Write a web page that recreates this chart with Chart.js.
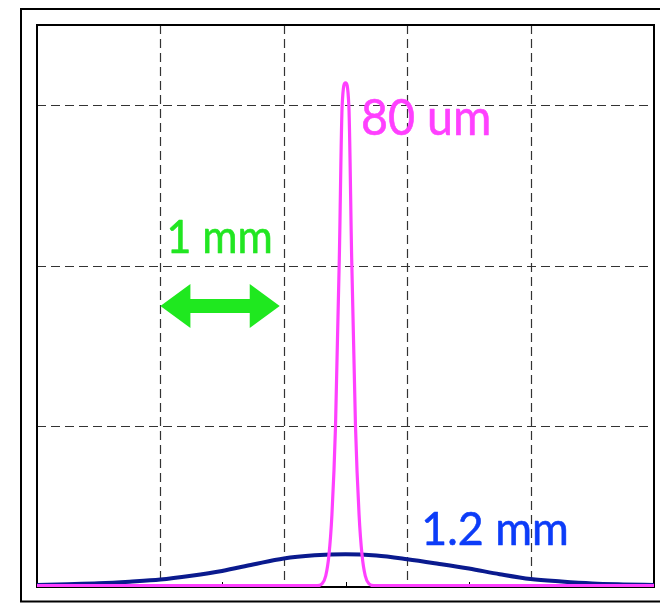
<!DOCTYPE html>
<html>
<head>
<meta charset="utf-8">
<script src="https://cdn.jsdelivr.net/npm/chart.js@4"></script>
<style>
html,body{margin:0;padding:0;background:#fff;}
canvas{display:block;}
</style>
</head>
<body>
<canvas id="c" width="660" height="603"></canvas>
<script>
// ---- data (mm on x, arbitrary intensity on y) ----
const blueX = [0, 0.25, 0.5, 0.75, 1.0, 1.25, 1.5, 1.75, 2.0, 2.25, 2.5, 2.75, 3.0, 3.25, 3.5, 3.75, 4.0, 4.25, 4.5, 4.75, 5.0];
const blueY = [0.012, 0.017, 0.023, 0.033, 0.046, 0.07, 0.10, 0.14, 0.178, 0.197, 0.204, 0.196, 0.173, 0.145, 0.115, 0.08, 0.05, 0.034, 0.022, 0.016, 0.012];
const pinkX = [0, 2.27, 2.31, 2.34, 2.366, 2.39, 2.419, 2.45, 2.473, 2.5, 2.527, 2.55, 2.581, 2.61, 2.634, 2.66, 2.69, 2.73, 5];
const pinkY = [0.008, 0.008, 0.02, 0.07, 0.2, 0.45, 1.0, 2.05, 3.0, 3.14, 3.0, 2.05, 1.0, 0.45, 0.2, 0.07, 0.02, 0.008, 0.008];
const gridX = [1, 2, 3, 4];
const gridY = [1, 2, 3];
const minorTicksX = [0.5, 1.5, 2.5, 3.5, 4.5];
const labelTexts = ["80 um", "1 mm", "1.2 mm"];

// ---- annotation layout (data units for anchor) ----
const labelLayout = [
  {x0: 2.626, x1: 3.683, base: 2.813, cap: 36, color: '#ff40ff'},
  {x0: 1.049, x1: 1.911, base: 2.077, cap: 33, color: '#22e622'},
  {x0: 3.114, x1: 4.309, base: 0.262, cap: 34, color: '#0c3cf8'}
];
const arrowLayout = {x0: 1.0, x1: 1.967, y: 1.75, head: 30, headHalf: 22, shaftHalf: 7, color: '#1fe81f'};

const decor = {
  id: 'decor',
  beforeDraw(chart) {
    const ctx = chart.ctx;
    ctx.save();
    ctx.fillStyle = '#fff';
    ctx.fillRect(0, 0, chart.width, chart.height);
    ctx.strokeStyle = '#000';
    ctx.lineWidth = 2;
    ctx.strokeRect(21, 9, 660, 592.5);
    ctx.restore();
  },
  beforeDatasetsDraw(chart) {
    const {ctx, chartArea: a, scales: {x, y}} = chart;
    ctx.save();
    ctx.strokeStyle = '#333';
    ctx.lineWidth = 1.2;
    ctx.setLineDash([9, 5]);
    gridX.forEach(v => {
      const px = Math.round(x.getPixelForValue(v)) + 0.5;
      ctx.beginPath(); ctx.moveTo(px, a.top); ctx.lineTo(px, a.bottom); ctx.stroke();
    });
    gridY.forEach(v => {
      const py = Math.round(y.getPixelForValue(v)) + 0.5;
      ctx.beginPath(); ctx.moveTo(a.left, py); ctx.lineTo(a.right, py); ctx.stroke();
    });
    ctx.setLineDash([]);
    ctx.strokeStyle = '#000';
    ctx.lineWidth = 1;
    minorTicksX.forEach(v => {
      const px = Math.round(x.getPixelForValue(v)) + 0.5;
      ctx.beginPath(); ctx.moveTo(px, a.bottom); ctx.lineTo(px, a.bottom - 5); ctx.stroke();
    });
    ctx.lineWidth = 2;
    ctx.strokeRect(a.left, a.top, a.right - a.left, a.bottom - a.top);
    ctx.restore();
  },
  afterDatasetsDraw(chart) {
    const {ctx, scales: {x, y}} = chart;
    ctx.save();
    labelTexts.forEach((t, i) => {
      const L = labelLayout[i];
      const fs = L.cap / 0.72;
      ctx.font = fs + 'px Lato';
      const w = ctx.measureText(t).width;
      const left = x.getPixelForValue(L.x0), right = x.getPixelForValue(L.x1);
      const base = y.getPixelForValue(L.base);
      ctx.save();
      ctx.translate(left, base);
      ctx.scale((right - left) / w, 1);
      ctx.fillStyle = L.color;
      ctx.strokeStyle = L.color;
      ctx.lineWidth = 0.6;
      ctx.lineJoin = 'round';
      ctx.textBaseline = 'alphabetic';
      ctx.textAlign = 'left';
      ctx.fillText(t, 0, 0);
      ctx.strokeText(t, 0, 0);
      ctx.restore();
    });
    const A = arrowLayout;
    const xl = x.getPixelForValue(A.x0), xr = x.getPixelForValue(A.x1), yc = y.getPixelForValue(A.y);
    ctx.fillStyle = A.color;
    ctx.beginPath();
    ctx.moveTo(xl, yc);
    ctx.lineTo(xl + A.head, yc - A.headHalf);
    ctx.lineTo(xl + A.head, yc - A.shaftHalf);
    ctx.lineTo(xr - A.head, yc - A.shaftHalf);
    ctx.lineTo(xr - A.head, yc - A.headHalf);
    ctx.lineTo(xr, yc);
    ctx.lineTo(xr - A.head, yc + A.headHalf);
    ctx.lineTo(xr - A.head, yc + A.shaftHalf);
    ctx.lineTo(xl + A.head, yc + A.shaftHalf);
    ctx.lineTo(xl + A.head, yc + A.headHalf);
    ctx.closePath();
    ctx.fill();
    ctx.restore();
  }
};

new Chart(document.getElementById('c'), {
  type: 'line',
  data: {
    datasets: [
      {
        label: '80 um',
        data: pinkX.map((v, i) => ({x: v, y: pinkY[i]})),
        borderColor: '#ff40ff',
        borderWidth: 3.2,
        pointRadius: 0,
        fill: false,
        cubicInterpolationMode: 'monotone'
      },
      {
        label: '1.2 mm',
        data: blueX.map((v, i) => ({x: v, y: blueY[i]})),
        borderColor: '#0a1a8e',
        borderWidth: 4,
        pointRadius: 0,
        fill: false,
        cubicInterpolationMode: 'monotone'
      }
    ]
  },
  options: {
    responsive: false,
    animation: false,
    layout: {padding: {left: 37, top: 25, right: 6, bottom: 16}},
    plugins: {legend: {display: false}, tooltip: {enabled: false}},
    scales: {
      x: {
        type: 'linear', min: 0, max: 5,
        ticks: {display: false},
        grid: {display: false},
        border: {display: false},
        afterFit: s => { s.height = 0; }
      },
      y: {
        type: 'linear', min: 0, max: 3.5,
        ticks: {display: false},
        grid: {display: false},
        border: {display: false},
        afterFit: s => { s.width = 0; }
      }
    }
  },
  plugins: [decor]
});
</script>
</body>
</html>
